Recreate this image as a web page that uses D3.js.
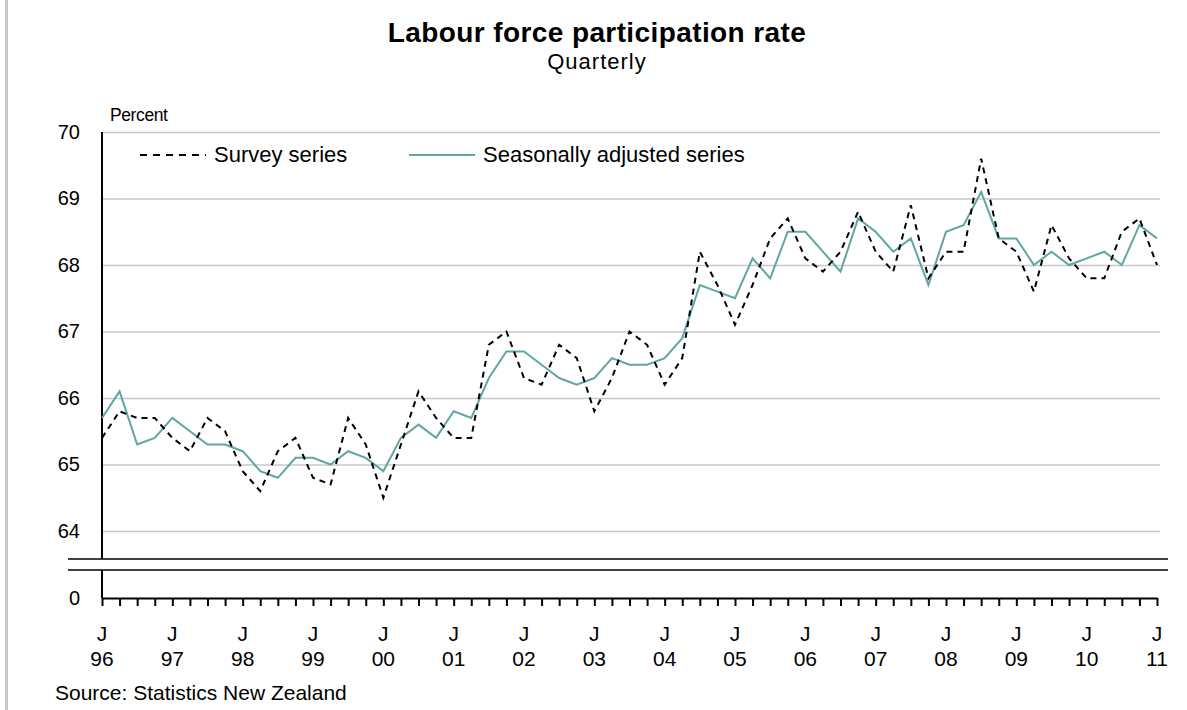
<!DOCTYPE html>
<html>
<head>
<meta charset="utf-8">
<script src="https://cdn.jsdelivr.net/npm/d3@7"></script>
<style>
  body { margin: 0; background: #fff; }
  svg { display: block; font-family: "Liberation Sans", Arial, sans-serif; }
</style>
</head>
<body>
<svg id="chart" width="1187" height="710"></svg>
<script>
// quarterly, June 1996 to June 2011
const survey = [
  65.4, 65.8, 65.7, 65.7, 65.4, 65.2, 65.7, 65.5, 64.9, 64.6,
  65.2, 65.4, 64.8, 64.7, 65.7, 65.3, 64.5, 65.3, 66.1, 65.7,
  65.4, 65.4, 66.8, 67.0, 66.3, 66.2, 66.8, 66.6, 65.8, 66.3,
  67.0, 66.8, 66.2, 66.6, 68.2, 67.7, 67.1, 67.7, 68.4, 68.7,
  68.1, 67.9, 68.2, 68.8, 68.2, 67.9, 68.9, 67.8, 68.2, 68.2,
  69.6, 68.4, 68.2, 67.6, 68.6, 68.1, 67.8, 67.8, 68.5, 68.7,
  68.0
];
const seasonal = [
  65.7, 66.1, 65.3, 65.4, 65.7, 65.5, 65.3, 65.3, 65.2, 64.9,
  64.8, 65.1, 65.1, 65.0, 65.2, 65.1, 64.9, 65.4, 65.6, 65.4,
  65.8, 65.7, 66.3, 66.7, 66.7, 66.5, 66.3, 66.2, 66.3, 66.6,
  66.5, 66.5, 66.6, 66.9, 67.7, 67.6, 67.5, 68.1, 67.8, 68.5,
  68.5, 68.2, 67.9, 68.7, 68.5, 68.2, 68.4, 67.7, 68.5, 68.6,
  69.1, 68.4, 68.4, 68.0, 68.2, 68.0, 68.1, 68.2, 68.0, 68.6,
  68.4
];
const yTicks = [64, 65, 66, 67, 68, 69, 70];
const years = ["96", "97", "98", "99", "00", "01", "02", "03", "04", "05", "06", "07", "08", "09", "10", "11"];
const seriesNames = ["Survey series", "Seasonally adjusted series"];

const teal = "#5fa6a4";
const svg = d3.select("#chart");

const x = d3.scaleLinear().domain([0, survey.length - 1]).range([102, 1157]);
const y = d3.scaleLinear().domain([64, 70]).range([531, 132]);
const zeroY = 598;
const breakTop = 559, breakBottom = 570;

// frame edge
svg.append("line").attr("x1", 6.5).attr("x2", 6.5).attr("y1", 0).attr("y2", 710)
  .attr("stroke", "#c8c8c8").attr("stroke-width", 3);

// titles
svg.append("text").attr("x", 597).attr("y", 42).attr("text-anchor", "middle")
  .attr("font-size", 28).attr("font-weight", "bold").attr("letter-spacing", 0.4)
  .text("Labour force participation rate");
svg.append("text").attr("x", 597).attr("y", 69).attr("text-anchor", "middle")
  .attr("font-size", 22).attr("letter-spacing", 1).text("Quarterly");
svg.append("text").attr("x", 110).attr("y", 121).attr("font-size", 17.5)
  .attr("letter-spacing", -0.4).text("Percent");

// gridlines + y labels
const yAxis = svg.append("g").attr("transform", "translate(102,0)")
  .call(d3.axisLeft(y).tickValues(yTicks).tickSize(-1058).tickFormat(d3.format("d")));
yAxis.select(".domain").remove();
yAxis.selectAll(".tick line").attr("stroke", "#c8c8c8").attr("stroke-width", 1.5);
yAxis.selectAll(".tick text").attr("x", -22).attr("font-size", 20).attr("fill", "#000")
  .attr("font-family", "Liberation Sans, Arial, sans-serif");

// y axis line with break
svg.append("line").attr("x1", 102).attr("x2", 102).attr("y1", 132).attr("y2", breakTop)
  .attr("stroke", "#000").attr("stroke-width", 2);
svg.append("line").attr("x1", 102).attr("x2", 102).attr("y1", breakBottom).attr("y2", zeroY)
  .attr("stroke", "#000").attr("stroke-width", 2);
[breakTop, breakBottom].forEach(by => {
  svg.append("line").attr("x1", 68).attr("x2", 1168).attr("y1", by).attr("y2", by)
    .attr("stroke", "#000").attr("stroke-width", 1.5);
});
svg.append("text").attr("x", 80).attr("y", zeroY + 7).attr("text-anchor", "end")
  .attr("font-size", 20).text("0");

// x axis with quarterly ticks
const xAxis = svg.append("g").attr("transform", `translate(0,${zeroY})`)
  .call(d3.axisBottom(x).tickValues(d3.range(survey.length)).tickSize(8).tickSizeOuter(0).tickFormat(""));
xAxis.select(".domain").attr("stroke", "#000").attr("stroke-width", 2);
xAxis.selectAll(".tick line").attr("stroke", "#000").attr("stroke-width", 2);

const yearLabels = svg.append("g").selectAll("g").data(years).join("g")
  .attr("transform", (d, i) => `translate(${x(i * 4)},0)`)
  .attr("font-size", 21).attr("text-anchor", "middle");
yearLabels.append("text").attr("y", 641).text("J");
yearLabels.append("text").attr("y", 666).text(d => d);

svg.append("text").attr("x", 55).attr("y", 700).attr("font-size", 21)
  .text("Source: Statistics New Zealand");

// series
const line = d3.line().x((d, i) => x(i)).y(d => y(d));
svg.append("path").datum(seasonal).attr("d", line)
  .attr("fill", "none").attr("stroke", teal).attr("stroke-width", 2);
svg.append("path").datum(survey).attr("d", line)
  .attr("fill", "none").attr("stroke", "#000").attr("stroke-width", 2)
  .attr("stroke-dasharray", "6,5");

// legend
const legend = [
  { name: seriesNames[0], x: 140, dash: "7,6", color: "#000" },
  { name: seriesNames[1], x: 409, dash: null, color: teal }
];
legend.forEach(l => {
  svg.append("line").attr("x1", l.x).attr("x2", l.x + 66).attr("y1", 155).attr("y2", 155)
    .attr("stroke", l.color).attr("stroke-width", 2).attr("stroke-dasharray", l.dash);
  svg.append("text").attr("x", l.x + 74).attr("y", 162).attr("font-size", 22).text(l.name);
});
</script>
</body>
</html>
